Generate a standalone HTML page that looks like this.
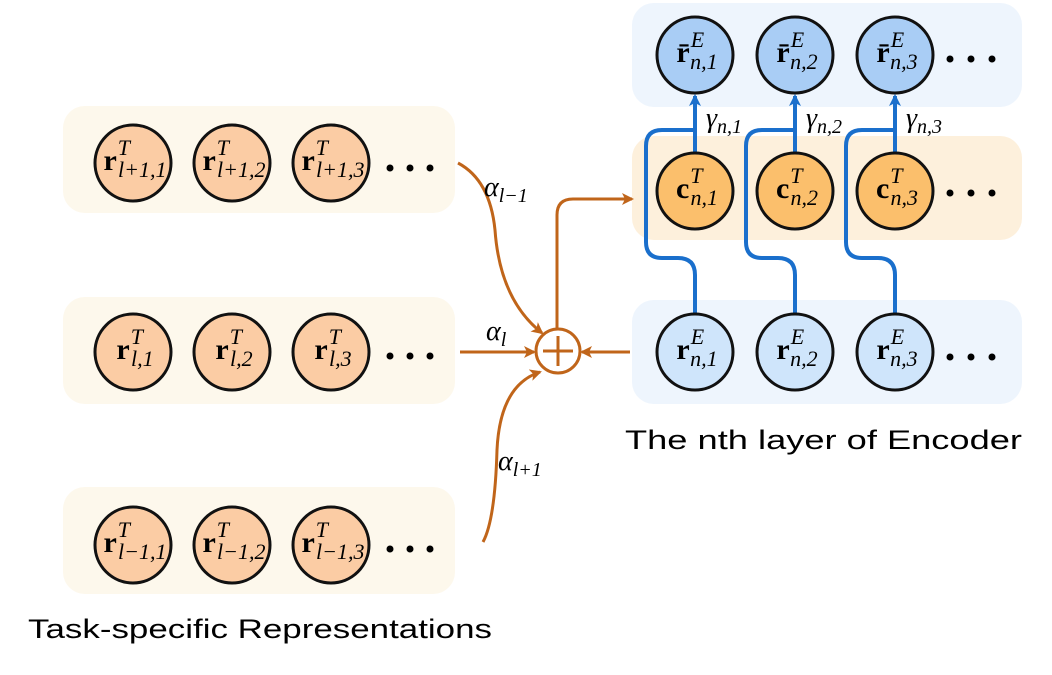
<!DOCTYPE html>
<html><head><meta charset="utf-8"><style>
body{margin:0;background:#fff;width:1052px;height:670px;overflow:hidden}
svg text{font-family:"Liberation Serif",serif}
.m{font-size:30px;font-weight:bold}
.s{font-size:22px;font-style:italic}
.lbl{font-family:"Liberation Sans",sans-serif !important;font-size:27px}
</style></head><body>
<svg width="1052" height="670" viewBox="0 0 1052 670" xmlns="http://www.w3.org/2000/svg">
<defs>
<marker id="ao" markerWidth="12" markerHeight="12" refX="10" refY="6" orient="auto" markerUnits="userSpaceOnUse"><path d="M0,0 L12,6 L0,12 L3,6z" fill="#c0651a"/></marker>
<marker id="ab" markerWidth="12" markerHeight="12" refX="10" refY="6" orient="auto" markerUnits="userSpaceOnUse"><path d="M0,0 L12,6 L0,12 L3,6z" fill="#1a6fcc"/></marker>
</defs>
<rect x="63" y="106" width="392" height="107" rx="22" fill="#fdf8ec"/>
<rect x="63" y="297" width="392" height="107" rx="22" fill="#fdf8ec"/>
<rect x="63" y="487" width="392" height="107" rx="22" fill="#fdf8ec"/>
<rect x="632" y="3" width="390" height="104" rx="22" fill="#eef5fd"/>
<rect x="632" y="136" width="390" height="104" rx="22" fill="#fdf0dc"/>
<rect x="632" y="300" width="390" height="104" rx="22" fill="#eef5fd"/>
<g fill="none" stroke="#1a6fcc" stroke-width="4">
<path d="M695,314 V275 Q695,258 678,258 H662 Q646,258 646,242 V146 Q646,130 662,130 H695"/>
<path d="M795,314 V275 Q795,258 778,258 H762 Q746,258 746,242 V146 Q746,130 762,130 H795"/>
<path d="M895,314 V275 Q895,258 878,258 H862 Q846,258 846,242 V146 Q846,130 862,130 H895"/>
<path d="M695,152 V96" marker-end="url(#ab)"/>
<path d="M795,152 V96" marker-end="url(#ab)"/>
<path d="M895,152 V96" marker-end="url(#ab)"/>
</g>
<g fill="none" stroke="#c0651a" stroke-width="3">
<path d="M458,163 Q490,180 495,230 Q500,300 542,333" marker-end="url(#ao)"/>
<path d="M460,352 H534" marker-end="url(#ao)"/>
<path d="M483,542 Q495,520 497,450 Q500,385 540,372" marker-end="url(#ao)"/>
<path d="M630,352 H582" marker-end="url(#ao)"/>
<path d="M557,328 V215 Q557,199 573,199 H632" marker-end="url(#ao)"/>
<circle cx="558" cy="351" r="22"/>
<path d="M558,336 V366 M543,351 H573"/>
</g>
<g font-size="28" font-style="italic" fill="#000">
<text x="484" y="196">α<tspan font-size="20" dy="6">l−1</tspan></text>
<text x="486" y="340">α<tspan font-size="20" dy="6">l</tspan></text>
<text x="498" y="470">α<tspan font-size="20" dy="6">l+1</tspan></text>
<text x="706" y="127">γ<tspan font-size="20" dy="6">n,1</tspan></text>
<text x="806" y="127">γ<tspan font-size="20" dy="6">n,2</tspan></text>
<text x="906" y="127">γ<tspan font-size="20" dy="6">n,3</tspan></text>
</g>
<g stroke="#111" stroke-width="3">
<g fill="#fbcca4">
<circle cx="133" cy="163" r="38"/><circle cx="232" cy="163" r="38"/><circle cx="331" cy="163" r="38"/>
<circle cx="133" cy="352" r="38"/><circle cx="232" cy="352" r="38"/><circle cx="331" cy="352" r="38"/>
<circle cx="133" cy="545" r="38"/><circle cx="232" cy="545" r="38"/><circle cx="331" cy="545" r="38"/>
</g>
<g fill="#a9cdf5"><circle cx="695" cy="55" r="38"/><circle cx="795" cy="55" r="38"/><circle cx="895" cy="55" r="38"/></g>
<g fill="#fbbf6c"><circle cx="695" cy="191" r="38"/><circle cx="795" cy="191" r="38"/><circle cx="895" cy="191" r="38"/></g>
<g fill="#cfe5fb"><circle cx="695" cy="352" r="38"/><circle cx="795" cy="352" r="38"/><circle cx="895" cy="352" r="38"/></g>
</g>
<g fill="#000" text-anchor="middle">
<text x="135" y="170"><tspan class="m">r</tspan><tspan class="s" dx="1" dy="-15">T</tspan><tspan class="s" dx="-12" dy="22">l+1,1</tspan></text>
<text x="234" y="170"><tspan class="m">r</tspan><tspan class="s" dx="1" dy="-15">T</tspan><tspan class="s" dx="-12" dy="22">l+1,2</tspan></text>
<text x="333" y="170"><tspan class="m">r</tspan><tspan class="s" dx="1" dy="-15">T</tspan><tspan class="s" dx="-12" dy="22">l+1,3</tspan></text>
<text x="135" y="359"><tspan class="m">r</tspan><tspan class="s" dx="1" dy="-15">T</tspan><tspan class="s" dx="-12" dy="22">l,1</tspan></text>
<text x="234" y="359"><tspan class="m">r</tspan><tspan class="s" dx="1" dy="-15">T</tspan><tspan class="s" dx="-12" dy="22">l,2</tspan></text>
<text x="333" y="359"><tspan class="m">r</tspan><tspan class="s" dx="1" dy="-15">T</tspan><tspan class="s" dx="-12" dy="22">l,3</tspan></text>
<text x="135" y="552"><tspan class="m">r</tspan><tspan class="s" dx="1" dy="-15">T</tspan><tspan class="s" dx="-12" dy="22">l−1,1</tspan></text>
<text x="234" y="552"><tspan class="m">r</tspan><tspan class="s" dx="1" dy="-15">T</tspan><tspan class="s" dx="-12" dy="22">l−1,2</tspan></text>
<text x="333" y="552"><tspan class="m">r</tspan><tspan class="s" dx="1" dy="-15">T</tspan><tspan class="s" dx="-12" dy="22">l−1,3</tspan></text>
<text x="697" y="62"><tspan class="m">r̄</tspan><tspan class="s" dx="1" dy="-15">E</tspan><tspan class="s" dx="-14" dy="22">n,1</tspan></text>
<text x="797" y="62"><tspan class="m">r̄</tspan><tspan class="s" dx="1" dy="-15">E</tspan><tspan class="s" dx="-14" dy="22">n,2</tspan></text>
<text x="897" y="62"><tspan class="m">r̄</tspan><tspan class="s" dx="1" dy="-15">E</tspan><tspan class="s" dx="-14" dy="22">n,3</tspan></text>
<text x="697" y="198"><tspan class="m">c</tspan><tspan class="s" dx="1" dy="-15">T</tspan><tspan class="s" dx="-12" dy="22">n,1</tspan></text>
<text x="797" y="198"><tspan class="m">c</tspan><tspan class="s" dx="1" dy="-15">T</tspan><tspan class="s" dx="-12" dy="22">n,2</tspan></text>
<text x="897" y="198"><tspan class="m">c</tspan><tspan class="s" dx="1" dy="-15">T</tspan><tspan class="s" dx="-12" dy="22">n,3</tspan></text>
<text x="697" y="359"><tspan class="m">r</tspan><tspan class="s" dx="1" dy="-15">E</tspan><tspan class="s" dx="-14" dy="22">n,1</tspan></text>
<text x="797" y="359"><tspan class="m">r</tspan><tspan class="s" dx="1" dy="-15">E</tspan><tspan class="s" dx="-14" dy="22">n,2</tspan></text>
<text x="897" y="359"><tspan class="m">r</tspan><tspan class="s" dx="1" dy="-15">E</tspan><tspan class="s" dx="-14" dy="22">n,3</tspan></text>
</g>
<g fill="#000">
<circle cx="390" cy="168" r="3.5"/><circle cx="410" cy="168" r="3.5"/><circle cx="430" cy="168" r="3.5"/>
<circle cx="390" cy="356" r="3.5"/><circle cx="410" cy="356" r="3.5"/><circle cx="430" cy="356" r="3.5"/>
<circle cx="390" cy="549" r="3.5"/><circle cx="410" cy="549" r="3.5"/><circle cx="430" cy="549" r="3.5"/>
<circle cx="950" cy="59" r="3.5"/><circle cx="971" cy="59" r="3.5"/><circle cx="992" cy="59" r="3.5"/>
<circle cx="950" cy="193" r="3.5"/><circle cx="971" cy="193" r="3.5"/><circle cx="992" cy="193" r="3.5"/>
<circle cx="950" cy="357" r="3.5"/><circle cx="971" cy="357" r="3.5"/><circle cx="992" cy="357" r="3.5"/>
<text class="lbl" x="625" y="449" textLength="397" lengthAdjust="spacingAndGlyphs">The nth layer of Encoder</text>
<text class="lbl" x="28" y="638" textLength="464" lengthAdjust="spacingAndGlyphs">Task-specific Representations</text>
</g>
</svg>
</body></html>
